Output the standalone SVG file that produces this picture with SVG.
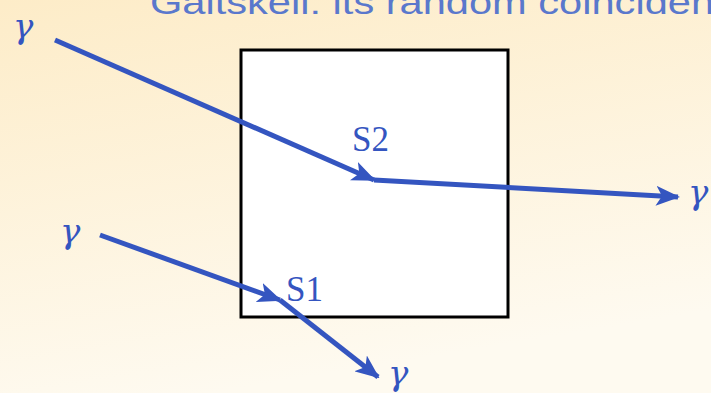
<svg xmlns="http://www.w3.org/2000/svg" width="711" height="393" viewBox="0 0 711 393">
<defs>
<linearGradient id="bg" x1="0" y1="0" x2="0.3" y2="1">
<stop offset="0" stop-color="#fdecc8"/>
<stop offset="1" stop-color="#fefaf0"/>
</linearGradient>
<marker id="ah" viewBox="0 0 24 20" refX="22" refY="10" markerWidth="24" markerHeight="20" markerUnits="userSpaceOnUse" orient="auto">
<path d="M0,0 L24,10 L0,20 L6,10 Z" fill="#3455c0"/>
</marker>
<style>
.ln{stroke:#3455c0;stroke-width:5;fill:none;marker-end:url(#ah)}
.g{font-family:"DejaVu Serif","Liberation Serif",serif;font-style:italic;font-size:34px;fill:#3455c0}
.s{font-family:"Liberation Serif",serif;font-size:35px;fill:#3455c0}
</style>
</defs>
<rect width="711" height="393" fill="url(#bg)"/>
<text x="150" y="14" font-family="Liberation Sans, sans-serif" font-size="34" fill="#5a78cc" textLength="608" lengthAdjust="spacingAndGlyphs">Gaitskell: its random coincidence</text>
<g id="box"><rect x="241" y="50" width="267" height="267" fill="#fff" stroke="#000" stroke-width="3"/></g>
<g id="connectors">
<line class="ln" x1="55" y1="40" x2="374" y2="180"/>
<line class="ln" x1="374" y1="180" x2="678" y2="197"/>
<line class="ln" x1="100" y1="235" x2="280" y2="300"/>
<line class="ln" x1="280" y1="300" x2="378" y2="377"/>
</g>
<g id="labels">
<text class="g" x="13" y="38">γ</text>
<text class="g" x="60" y="243">γ</text>
<text class="g" x="388" y="385">γ</text>
<text class="g" x="688" y="204">γ</text>
<text class="s" x="352" y="151">S2</text>
<text class="s" x="286" y="301">S1</text>
</g>
</svg>
